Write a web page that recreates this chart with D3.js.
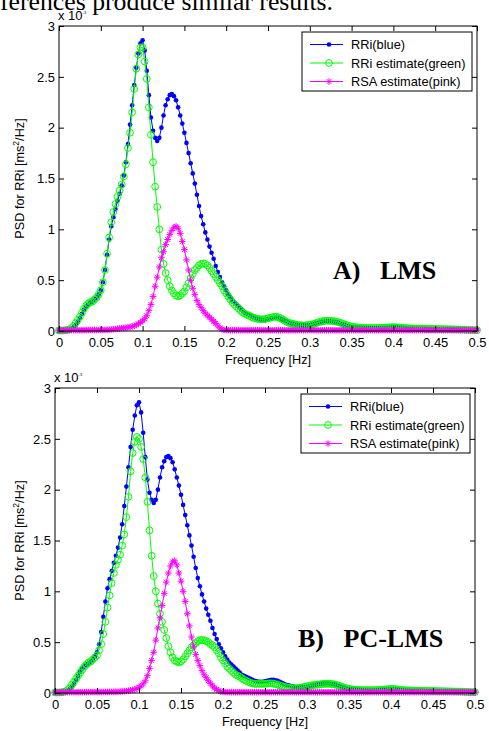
<!DOCTYPE html>
<html><head><meta charset="utf-8">
<script src="https://cdn.jsdelivr.net/npm/d3@7/dist/d3.min.js"></script>
<style>body{margin:0;background:#fff} svg{display:block}</style>
</head><body>
<svg id="chart" width="489" height="731"></svg>
<script>
// ---------- data ----------
const FREQ_STEP = 0.0025; // Hz between samples (0 .. 0.5)
const X_TICKS = [0, 0.05, 0.1, 0.15, 0.2, 0.25, 0.3, 0.35, 0.4, 0.45, 0.5];
const X_TICK_LABELS = ["0", "0.05", "0.1", "0.15", "0.2", "0.25", "0.3", "0.35", "0.4", "0.45", "0.5"];
const Y_TICKS = [0, 0.5, 1, 1.5, 2, 2.5, 3];
const Y_TICK_LABELS = ["0", "0.5", "1", "1.5", "2", "2.5", "3"];
const SERIES_NAMES = ["RRi(blue)", "RRi estimate(green)", "RSA estimate(pink)"];
const PANEL_TITLES = ["A)   LMS", "B)   PC-LMS"];
const HEADER_TEXT = "ferences produce similar results.";

// PSD values, x 10^-3 ms^2/Hz
const RRI_BLUE = [
0, 0, 0, 0, 0.005, 0.01, 0.02, 0.04, 0.06, 0.09,
0.13, 0.17, 0.21, 0.24, 0.26, 0.28, 0.29, 0.31, 0.33, 0.36,
0.4, 0.48, 0.6, 0.75, 0.9, 1.03, 1.12, 1.2, 1.28, 1.35,
1.43, 1.53, 1.66, 1.84, 2.03, 2.22, 2.42, 2.59, 2.73, 2.83,
2.86, 2.76, 2.56, 2.32, 2.1, 1.97, 1.9, 1.87, 1.9, 2.0,
2.12, 2.22, 2.28, 2.32, 2.33, 2.31, 2.27, 2.2, 2.12, 2.04,
1.95, 1.85, 1.75, 1.65, 1.55, 1.45, 1.34, 1.23, 1.13, 1.05,
0.97, 0.9, 0.83, 0.77, 0.71, 0.64, 0.58, 0.53, 0.48, 0.44,
0.4, 0.36, 0.33, 0.3, 0.28, 0.26, 0.24, 0.22, 0.2, 0.18,
0.17, 0.16, 0.15, 0.14, 0.13, 0.12, 0.115, 0.11, 0.11, 0.11,
0.115, 0.12, 0.125, 0.13, 0.13, 0.125, 0.12, 0.11, 0.1, 0.09,
0.08, 0.075, 0.07, 0.065, 0.06, 0.058, 0.055, 0.055, 0.055, 0.055,
0.06, 0.065, 0.07, 0.075, 0.08, 0.085, 0.09, 0.092, 0.095, 0.095,
0.095, 0.093, 0.09, 0.085, 0.08, 0.072, 0.065, 0.058, 0.05, 0.045,
0.04, 0.038, 0.036, 0.035, 0.034, 0.033, 0.032, 0.032, 0.031, 0.031,
0.03, 0.03, 0.03, 0.03, 0.031, 0.032, 0.033, 0.034, 0.035, 0.036,
0.037, 0.038, 0.037, 0.035, 0.033, 0.031, 0.029, 0.028, 0.027, 0.026,
0.025, 0.025, 0.024, 0.024, 0.023, 0.023, 0.022, 0.022, 0.022, 0.021,
0.021, 0.02, 0.02, 0.02, 0.019, 0.019, 0.018, 0.018, 0.017, 0.017,
0.016, 0.016, 0.015, 0.015, 0.014, 0.013, 0.012, 0.011, 0.01, 0.01,
0.01];

const LMS_GREEN = [
0.005, 0.005, 0.005, 0.008, 0.01, 0.015, 0.03, 0.05, 0.08, 0.11,
0.14, 0.18, 0.22, 0.25, 0.27, 0.285, 0.29, 0.31, 0.33, 0.36,
0.4, 0.48, 0.6, 0.76, 0.92, 1.07, 1.17, 1.25, 1.32, 1.38,
1.44, 1.52, 1.64, 1.8, 1.95, 2.15, 2.38, 2.58, 2.72, 2.79,
2.79, 2.65, 2.48, 2.2, 1.93, 1.66, 1.42, 1.22, 1.0, 0.8,
0.66, 0.57, 0.5, 0.44, 0.4, 0.37, 0.35, 0.34, 0.35, 0.37,
0.39, 0.43, 0.47, 0.52, 0.56, 0.6, 0.62, 0.645, 0.66, 0.665,
0.66, 0.645, 0.62, 0.59, 0.56, 0.53, 0.5, 0.47, 0.44, 0.4,
0.37, 0.34, 0.31, 0.28, 0.26, 0.24, 0.22, 0.2, 0.18, 0.17,
0.16, 0.15, 0.14, 0.13, 0.125, 0.12, 0.115, 0.115, 0.115, 0.12,
0.125, 0.13, 0.135, 0.14, 0.14, 0.135, 0.125, 0.115, 0.1, 0.09,
0.08, 0.075, 0.07, 0.065, 0.06, 0.058, 0.056, 0.055, 0.056, 0.058,
0.06, 0.065, 0.07, 0.077, 0.085, 0.09, 0.095, 0.1, 0.1, 0.1,
0.1, 0.098, 0.095, 0.09, 0.085, 0.078, 0.07, 0.062, 0.055, 0.048,
0.043, 0.04, 0.037, 0.035, 0.033, 0.032, 0.031, 0.03, 0.03, 0.03,
0.03, 0.03, 0.03, 0.031, 0.032, 0.033, 0.034, 0.035, 0.036, 0.037,
0.038, 0.038, 0.036, 0.034, 0.032, 0.03, 0.028, 0.027, 0.026, 0.025,
0.025, 0.024, 0.024, 0.023, 0.023, 0.022, 0.022, 0.021, 0.021, 0.02,
0.02, 0.02, 0.019, 0.019, 0.018, 0.018, 0.017, 0.017, 0.016, 0.016,
0.015, 0.015, 0.014, 0.014, 0.013, 0.012, 0.011, 0.01, 0.009, 0.008,
0.008];

const LMS_PINK = [
0.008, 0.008, 0.008, 0.008, 0.008, 0.008, 0.008, 0.008, 0.008, 0.008,
0.008, 0.008, 0.009, 0.009, 0.009, 0.01, 0.01, 0.01, 0.01, 0.01,
0.01, 0.01, 0.012, 0.012, 0.014, 0.015, 0.017, 0.02, 0.022, 0.025,
0.028, 0.03, 0.033, 0.036, 0.04, 0.045, 0.05, 0.06, 0.07, 0.085,
0.1, 0.12, 0.15, 0.2, 0.26, 0.34, 0.44, 0.53, 0.63, 0.72,
0.78, 0.85, 0.9, 0.95, 0.99, 1.02, 1.03, 1.01, 0.96, 0.88,
0.8, 0.7, 0.6, 0.5, 0.42, 0.36, 0.3, 0.26, 0.23, 0.2,
0.175, 0.155, 0.135, 0.115, 0.095, 0.075, 0.05, 0.03, 0.018, 0.01,
0.009, 0.008, 0.008, 0.008, 0.008, 0.008, 0.008, 0.008, 0.008, 0.008,
0.008, 0.008, 0.008, 0.008, 0.008, 0.008, 0.008, 0.008, 0.008, 0.008,
0.008, 0.008, 0.008, 0.008, 0.008, 0.008, 0.008, 0.008, 0.008, 0.008,
0.008, 0.008, 0.008, 0.008, 0.008, 0.008, 0.008, 0.008, 0.008, 0.008,
0.008, 0.008, 0.008, 0.008, 0.008, 0.008, 0.008, 0.008, 0.008, 0.008,
0.008, 0.008, 0.008, 0.008, 0.008, 0.008, 0.008, 0.008, 0.008, 0.008,
0.008, 0.008, 0.008, 0.008, 0.008, 0.008, 0.008, 0.008, 0.008, 0.008,
0.008, 0.008, 0.008, 0.008, 0.008, 0.008, 0.008, 0.008, 0.008, 0.008,
0.008, 0.008, 0.008, 0.008, 0.008, 0.008, 0.008, 0.008, 0.008, 0.008,
0.008, 0.008, 0.008, 0.008, 0.008, 0.008, 0.008, 0.008, 0.008, 0.008,
0.008, 0.008, 0.008, 0.008, 0.008, 0.008, 0.008, 0.008, 0.008, 0.008,
0.008, 0.008, 0.008, 0.008, 0.008, 0.008, 0.008, 0.008, 0.008, 0.008,
0.008];

const PCLMS_GREEN = [
0.005, 0.005, 0.005, 0.007, 0.01, 0.015, 0.03, 0.05, 0.08, 0.11,
0.14, 0.17, 0.2, 0.23, 0.26, 0.28, 0.3, 0.31, 0.33, 0.35,
0.37, 0.42, 0.48, 0.58, 0.7, 0.84, 0.96, 1.08, 1.18, 1.26,
1.31, 1.36, 1.45, 1.56, 1.73, 1.93, 2.18, 2.36, 2.47, 2.52,
2.5, 2.42, 2.3, 2.12, 1.88, 1.6, 1.35, 1.15, 1.0, 0.88,
0.78, 0.7, 0.62, 0.54, 0.46, 0.4, 0.35, 0.32, 0.31, 0.3,
0.31, 0.33, 0.36, 0.39, 0.42, 0.45, 0.47, 0.49, 0.51, 0.52,
0.52, 0.52, 0.51, 0.5, 0.48, 0.47, 0.45, 0.42, 0.39, 0.35,
0.32, 0.29, 0.26, 0.24, 0.22, 0.2, 0.18, 0.17, 0.16, 0.145,
0.13, 0.12, 0.11, 0.1, 0.095, 0.09, 0.09, 0.09, 0.09, 0.09,
0.09, 0.092, 0.095, 0.095, 0.092, 0.088, 0.082, 0.075, 0.068, 0.062,
0.057, 0.053, 0.05, 0.048, 0.047, 0.048, 0.05, 0.053, 0.057, 0.062,
0.066, 0.07, 0.074, 0.078, 0.08, 0.082, 0.085, 0.088, 0.09, 0.09,
0.09, 0.09, 0.088, 0.085, 0.08, 0.072, 0.065, 0.058, 0.052, 0.046,
0.042, 0.038, 0.035, 0.033, 0.031, 0.03, 0.029, 0.028, 0.028, 0.028,
0.028, 0.028, 0.029, 0.03, 0.031, 0.032, 0.033, 0.035, 0.037, 0.039,
0.04, 0.04, 0.038, 0.035, 0.032, 0.03, 0.028, 0.027, 0.026, 0.025,
0.025, 0.024, 0.024, 0.023, 0.023, 0.022, 0.022, 0.021, 0.021, 0.02,
0.02, 0.02, 0.019, 0.019, 0.018, 0.018, 0.017, 0.017, 0.016, 0.016,
0.015, 0.015, 0.014, 0.014, 0.013, 0.012, 0.011, 0.01, 0.009, 0.008,
0.008];

const PCLMS_PINK = [
0.008, 0.008, 0.008, 0.008, 0.008, 0.008, 0.008, 0.008, 0.008, 0.008,
0.008, 0.008, 0.008, 0.008, 0.008, 0.009, 0.009, 0.009, 0.009, 0.009,
0.009, 0.009, 0.01, 0.01, 0.01, 0.01, 0.011, 0.011, 0.012, 0.012,
0.012, 0.014, 0.016, 0.018, 0.02, 0.023, 0.026, 0.03, 0.035, 0.045,
0.055, 0.07, 0.09, 0.12, 0.17, 0.24, 0.32, 0.4, 0.52, 0.64,
0.74, 0.86, 0.98, 1.09, 1.18, 1.25, 1.29, 1.3, 1.26, 1.18,
1.1, 1.0, 0.9, 0.78, 0.66, 0.55, 0.46, 0.38, 0.32, 0.27,
0.22, 0.18, 0.15, 0.12, 0.095, 0.07, 0.05, 0.035, 0.022, 0.015,
0.01, 0.009, 0.008, 0.008, 0.008, 0.008, 0.008, 0.008, 0.008, 0.008,
0.008, 0.008, 0.008, 0.008, 0.008, 0.008, 0.008, 0.008, 0.008, 0.008,
0.008, 0.008, 0.008, 0.008, 0.008, 0.008, 0.008, 0.008, 0.008, 0.008,
0.008, 0.008, 0.008, 0.008, 0.008, 0.008, 0.008, 0.008, 0.008, 0.008,
0.008, 0.008, 0.008, 0.008, 0.008, 0.008, 0.008, 0.008, 0.008, 0.008,
0.008, 0.008, 0.008, 0.008, 0.008, 0.008, 0.008, 0.008, 0.008, 0.008,
0.008, 0.008, 0.008, 0.008, 0.008, 0.008, 0.008, 0.008, 0.008, 0.008,
0.008, 0.008, 0.008, 0.008, 0.008, 0.008, 0.008, 0.008, 0.008, 0.008,
0.008, 0.008, 0.008, 0.008, 0.008, 0.008, 0.008, 0.008, 0.008, 0.008,
0.008, 0.008, 0.008, 0.008, 0.008, 0.008, 0.008, 0.008, 0.008, 0.008,
0.008, 0.008, 0.008, 0.008, 0.008, 0.008, 0.008, 0.008, 0.008, 0.008,
0.008, 0.008, 0.008, 0.008, 0.008, 0.008, 0.008, 0.008, 0.008, 0.008,
0.008];

// ---------- drawing ----------
const SANS = "'Liberation Sans', Arial, Helvetica, sans-serif";
const SERIF = "'Liberation Serif', 'Times New Roman', serif";
const COLORS = ["#0000ff", "#00ff00", "#ff00ff"];
const MARKERS = ["dot", "circle", "star"];

const svg = d3.select("#chart");
svg.append("rect").attr("width", 489).attr("height", 731).attr("fill", "#fff");

// header text (cut off at top of page)
svg.append("text").attr("x", 0).attr("y", 10)
  .attr("font-family", SERIF).attr("font-size", 26)
  .attr("textLength", 333).attr("lengthAdjust", "spacingAndGlyphs")
  .text(HEADER_TEXT);

function marker(g, kind, cx, cy, color) {
  if (kind === "dot") {
    g.append("circle").attr("cx", cx).attr("cy", cy).attr("r", 2.3).attr("fill", color);
  } else if (kind === "circle") {
    g.append("circle").attr("cx", cx).attr("cy", cy).attr("r", 3.4)
      .attr("fill", "none").attr("stroke", color).attr("stroke-width", 1);
  } else {
    const s = 3.3, d = s * 0.72;
    g.append("path")
      .attr("d", `M${cx - s},${cy}H${cx + s}M${cx},${cy - s}V${cy + s}M${cx - d},${cy - d}L${cx + d},${cy + d}M${cx - d},${cy + d}L${cx + d},${cy - d}`)
      .attr("stroke", color).attr("stroke-width", 1).attr("fill", "none");
  }
}

function drawPanel(cfg) {
  const x = d3.scaleLinear().domain([0, 0.5]).range([cfg.left, cfg.right]);
  const y = d3.scaleLinear().domain([0, 3]).range([cfg.bottom, cfg.top]);
  const g = svg.append("g");

  const seriesVals = [RRI_BLUE, cfg.green, cfg.pink];
  seriesVals.forEach((vals, si) => {
    const pts = vals.map((v, i) => [i * FREQ_STEP, v]);
    const sg = g.append("g");
    sg.append("path")
      .attr("d", d3.line().x(d => x(d[0])).y(d => y(d[1]))(pts))
      .attr("fill", "none").attr("stroke", COLORS[si]).attr("stroke-width", 1);
    pts.forEach(d => marker(sg, MARKERS[si], x(d[0]), y(d[1]), COLORS[si]));
  });

  // axes with inward ticks
  const styleAxis = a => { a.select(".domain").remove(); a.attr("font-family", SANS).attr("font-size", 13); a.selectAll("text").attr("fill", "#000"); };
  g.append("g").attr("transform", `translate(0,${cfg.bottom})`)
    .call(d3.axisBottom(x).tickValues(X_TICKS).tickFormat((d, i) => X_TICK_LABELS[i]).tickSizeInner(-5).tickSizeOuter(0).tickPadding(7))
    .call(styleAxis);
  g.append("g").attr("transform", `translate(0,${cfg.top})`)
    .call(d3.axisTop(x).tickValues(X_TICKS).tickFormat(() => "").tickSizeInner(-5).tickSizeOuter(0))
    .call(styleAxis);
  g.append("g").attr("transform", `translate(${cfg.left},0)`)
    .call(d3.axisLeft(y).tickValues(Y_TICKS).tickFormat((d, i) => Y_TICK_LABELS[i]).tickSizeInner(-5).tickSizeOuter(0).tickPadding(4))
    .call(styleAxis);
  g.append("g").attr("transform", `translate(${cfg.right},0)`)
    .call(d3.axisRight(y).tickValues(Y_TICKS).tickFormat(() => "").tickSizeInner(-5).tickSizeOuter(0))
    .call(styleAxis);

  g.append("rect").attr("x", cfg.left).attr("y", cfg.top)
    .attr("width", cfg.right - cfg.left).attr("height", cfg.bottom - cfg.top)
    .attr("fill", "none").attr("stroke", "#000").attr("stroke-width", 1);

  // exponent label
  const ex = g.append("text").attr("x", cfg.left - 1).attr("y", cfg.top - 6)
    .attr("font-family", SANS).attr("font-size", 13).text("x 10");
  ex.append("tspan").attr("dy", -6).attr("font-size", 4).text("-3");

  // axis labels
  g.append("text").attr("x", (cfg.left + cfg.right) / 2).attr("y", cfg.bottom + 33)
    .attr("text-anchor", "middle").attr("font-family", SANS).attr("font-size", 12.7)
    .text("Frequency [Hz]");
  const yl = g.append("text")
    .attr("transform", `translate(24,${(cfg.top + cfg.bottom) / 2}) rotate(-90)`)
    .attr("text-anchor", "middle").attr("font-family", SANS).attr("font-size", 12.7);
  yl.append("tspan").text("PSD for RRi [ms");
  yl.append("tspan").attr("dy", -5).attr("font-size", 8.5).text("2");
  yl.append("tspan").attr("dy", 5).text("/Hz]");

  // panel title
  g.append("text").attr("x", cfg.titleX).attr("y", cfg.titleY)
    .attr("font-family", SERIF).attr("font-weight", "bold").attr("font-size", 26)
    .style("white-space", "pre").text(cfg.title);

  // legend
  const L = cfg.legend;
  const lg = g.append("g");
  lg.append("rect").attr("x", L.x).attr("y", L.y).attr("width", L.w).attr("height", L.h)
    .attr("fill", "#fff").attr("stroke", "#000").attr("stroke-width", 1);
  SERIES_NAMES.forEach((name, i) => {
    const cy = L.y + 12.5 + i * 18.5;
    lg.append("line").attr("x1", L.x + 8).attr("x2", L.x + 41).attr("y1", cy).attr("y2", cy)
      .attr("stroke", COLORS[i]).attr("stroke-width", 1);
    marker(lg, MARKERS[i], L.x + 27, cy, COLORS[i]);
    lg.append("text").attr("x", L.x + 49).attr("y", cy).attr("dy", "0.36em")
      .attr("font-family", SANS).attr("font-size", 12.8).text(name);
  });
}

drawPanel({left: 59, right: 477, top: 26, bottom: 331, green: LMS_GREEN, pink: LMS_PINK,
  title: PANEL_TITLES[0], titleX: 333, titleY: 279,
  legend: {x: 302, y: 32, w: 170, h: 59}});
drawPanel({left: 55, right: 475, top: 388, bottom: 693, green: PCLMS_GREEN, pink: PCLMS_PINK,
  title: PANEL_TITLES[1], titleX: 298, titleY: 647,
  legend: {x: 301, y: 394, w: 169, h: 59}});
</script>
</body></html>
